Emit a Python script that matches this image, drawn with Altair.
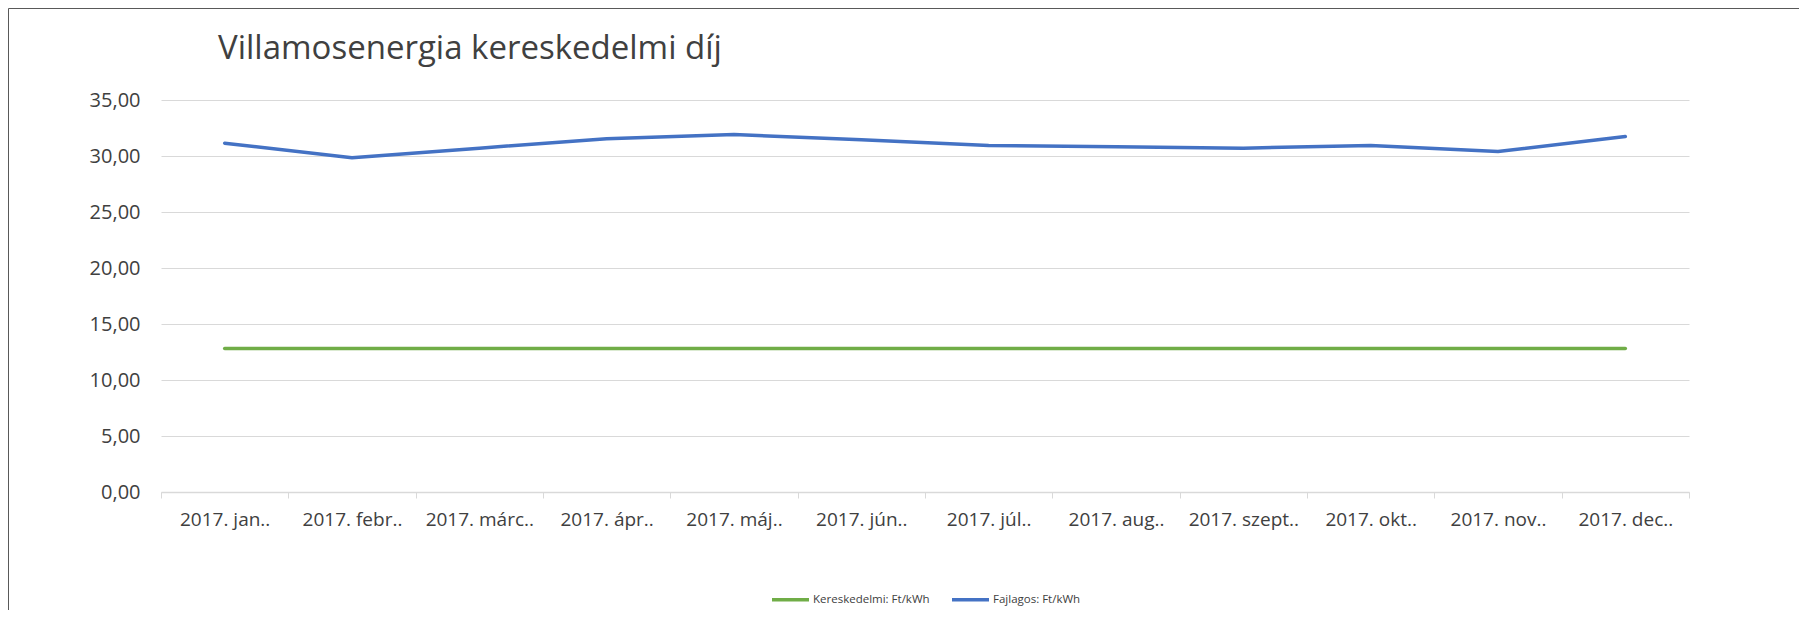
import altair as alt
import pandas as pd

title_text = "Villamosenergia kereskedelmi díj"
months = ["2017. jan..", "2017. febr..", "2017. márc..", "2017. ápr..", "2017. máj..", "2017. jún..",
          "2017. júl..", "2017. aug..", "2017. szept..", "2017. okt..", "2017. nov..", "2017. dec.."]
kereskedelmi = [12.81, 12.81, 12.81, 12.81, 12.81, 12.81, 12.81, 12.81, 12.81, 12.81, 12.81, 12.81]
fajlagos = [31.14, 29.84, 30.70, 31.55, 31.92, 31.45, 30.94, 30.82, 30.70, 30.94, 30.40, 31.74]
series_names = ["Kereskedelmi: Ft/kWh", "Fajlagos: Ft/kWh"]
series_colors = ["#70AD47", "#4472C4"]
y_ticks = [0, 5, 10, 15, 20, 25, 30, 35]

df = pd.DataFrame({
    "month": months + months,
    "value": kereskedelmi + fajlagos,
    "series": [series_names[0]] * len(months) + [series_names[1]] * len(months),
})
one = pd.DataFrame({"t": [title_text]})

FONT = "Open Sans"
W, H = 1528, 392

lines = alt.Chart(df).mark_line(strokeWidth=3.5, strokeCap="round", strokeJoin="round").encode(
    x=alt.X("month:N", sort=months, bandPosition=0.5,
            scale=alt.Scale(type="band", paddingInner=0, paddingOuter=0),
            axis=alt.Axis(title=None, labelAngle=0, labelFontSize=19, labelFont=FONT,
                          labelColor="#404040", labelPadding=12, labelOverlap=False,
                          labelBound=False, labelLimit=300,
                          tickBand="extent", ticks=True, tickSize=6, tickColor="#d9d9d9",
                          tickWidth=1, domain=True, domainColor="#d9d9d9", domainWidth=1.5,
                          grid=False)),
    y=alt.Y("value:Q", scale=alt.Scale(domain=[0, 35], nice=False, zero=True),
            axis=alt.Axis(title=None, values=y_ticks, grid=True, gridColor="#d9d9d9",
                          gridWidth=1, domain=False, ticks=False, tickSize=0,
                          labelFontSize=20, labelFont=FONT, labelColor="#404040",
                          labelPadding=21,
                          labelExpr="replace(format(datum.value, '.2f'), '.', ',')")),
    color=alt.Color("series:N", sort=series_names,
                    scale=alt.Scale(domain=series_names, range=series_colors),
                    legend=alt.Legend(orient="none", legendX=609, legendY=479,
                                      direction="horizontal", title=None,
                                      symbolType="stroke", symbolSize=1369,
                                      symbolStrokeWidth=3.5, labelFontSize=11.5,
                                      labelFont=FONT, labelColor="#404040",
                                      columnPadding=15, labelOffset=2)),
)

title = alt.Chart(one).mark_text(
    align="left", baseline="alphabetic", fontSize=33, font=FONT, color="#404040"
).encode(x=alt.value(57), y=alt.value(-41), text="t:N")

frame = alt.Chart(one).mark_rect(filled=False, stroke="#595959", strokeWidth=1).encode(
    x=alt.value(-152.5), x2=alt.value(1700), y=alt.value(-91.5), y2=alt.value(620)
)

chart = alt.layer(frame, lines, title).properties(
    width=W, height=H,
    autosize=alt.AutoSizeParams(type="none"),
    padding={"left": 153, "top": 92, "right": 110, "bottom": 118},
    background="white",
).configure_view(stroke=None)

chart.save("out.html", embed_options={"renderer": "svg", "actions": False})
